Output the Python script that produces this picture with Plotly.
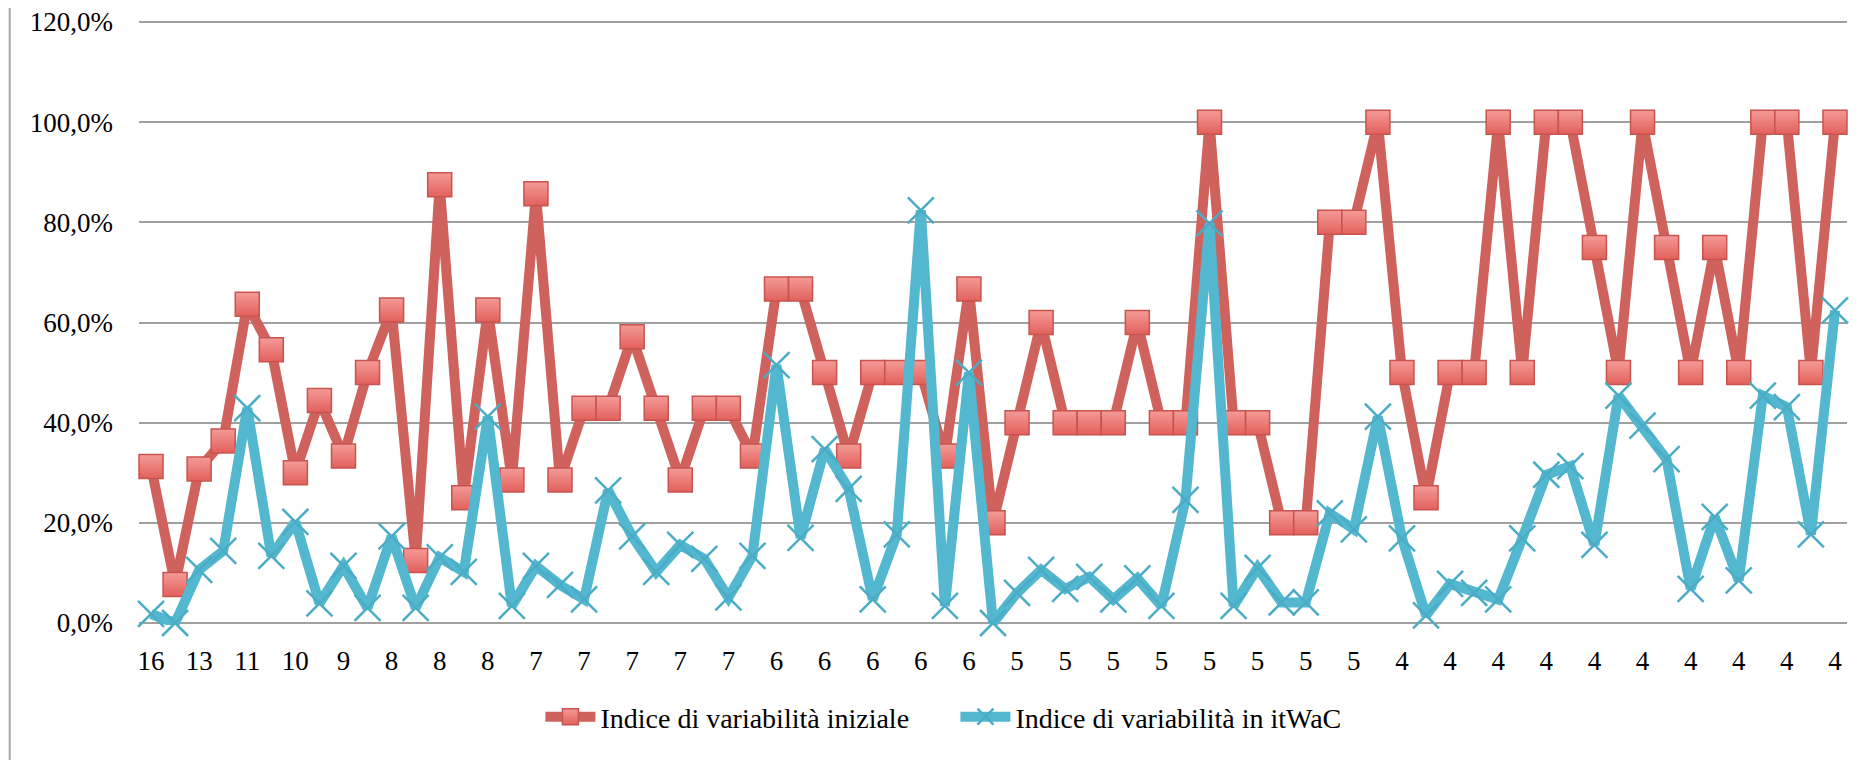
import plotly.graph_objects as go

# numero di varianti per voce (etichette asse x)
categories = [
    "16", "13", "13", "11", "11", "11", "10", "9", "9", "8",
    "8", "8", "8", "8", "8", "7", "7", "7", "7", "7",
    "7", "7", "7", "7", "7", "6", "6", "6", "6", "6",
    "6", "6", "6", "6", "6", "5", "5", "5", "5", "5",
    "5", "5", "5", "5", "5", "5", "5", "5", "5", "5",
    "5", "4", "4", "4", "4", "4", "4", "4", "4", "4",
    "4", "4", "4", "4", "4", "4", "4", "4", "4", "4",
    "4",
]

indice_iniziale = [
    0.3125, 0.0769, 0.3077, 0.3636, 0.6364, 0.5455, 0.3000, 0.4444, 0.3333, 0.5000,
    0.6250, 0.1250, 0.8750, 0.2500, 0.6250, 0.2857, 0.8571, 0.2857, 0.4286, 0.4286,
    0.5714, 0.4286, 0.2857, 0.4286, 0.4286, 0.3333, 0.6667, 0.6667, 0.5000, 0.3333,
    0.5000, 0.5000, 0.5000, 0.3333, 0.6667, 0.2000, 0.4000, 0.6000, 0.4000, 0.4000,
    0.4000, 0.6000, 0.4000, 0.4000, 1.0000, 0.4000, 0.4000, 0.2000, 0.2000, 0.8000,
    0.8000, 1.0000, 0.5000, 0.2500, 0.5000, 0.5000, 1.0000, 0.5000, 1.0000, 1.0000,
    0.7500, 0.5000, 1.0000, 0.7500, 0.5000, 0.7500, 0.5000, 1.0000, 1.0000, 0.5000,
    1.0000,
]

indice_itwac = [
    0.018, 0.000, 0.106, 0.144, 0.429, 0.134, 0.202, 0.039, 0.114, 0.030,
    0.173, 0.030, 0.131, 0.102, 0.412, 0.034, 0.114, 0.076, 0.047, 0.265,
    0.173, 0.102, 0.156, 0.128, 0.051, 0.134, 0.515, 0.170, 0.347, 0.268,
    0.047, 0.177, 0.824, 0.034, 0.500, 0.000, 0.060, 0.106, 0.068, 0.092,
    0.047, 0.089, 0.034, 0.246, 0.798, 0.034, 0.110, 0.041, 0.041, 0.219,
    0.187, 0.412, 0.169, 0.015, 0.078, 0.060, 0.047, 0.169, 0.296, 0.313,
    0.156, 0.454, 0.394, 0.327, 0.068, 0.212, 0.085, 0.454, 0.431, 0.177,
    0.624,
]

x = list(range(len(categories)))

fig = go.Figure()

# serie 1: indice iniziale (quadrati rossi)
fig.add_trace(
    go.Scatter(
        x=x, y=indice_iniziale, name="Indice di variabilità iniziale",
        mode="lines+markers",
        line=dict(color="#CF625D", width=10),
        marker=dict(
            symbol="square", size=24, color="#F49B98",
            gradient=dict(type="vertical", color="#E2605B"),
            line=dict(color="#C9534E", width=1.5),
        ),
        cliponaxis=False,
    )
)

# serie 2: indice in itWaC (stelle azzurre)
fig.add_trace(
    go.Scatter(
        x=x, y=indice_itwac, name="Indice di variabilità in itWaC",
        mode="lines+markers",
        line=dict(color="#52B7CF", width=10),
        marker=dict(
            symbol="x-thin-open", size=26, color="#4BACC6",
            line=dict(color="#4BACC6", width=2.5),
        ),
        cliponaxis=False,
    )
)

# cornice a sinistra
fig.add_shape(
    type="line", xref="paper", yref="paper",
    x0=-0.0757, x1=-0.0757, y0=-0.26, y1=1.04,
    line=dict(color="#A6A6A6", width=2),
)

font = "Liberation Serif, DejaVu Serif, serif"

# la pagina ha un margine di 8px: margini compensati
fig.update_layout(
    width=1876,
    height=760,
    separators=",.",
    paper_bgcolor="white",
    plot_bgcolor="white",
    margin=dict(l=131, r=37, t=12, b=143, autoexpand=False),
    font=dict(family=font, size=26, color="black"),
    showlegend=True,
    legend=dict(
        orientation="h",
        x=0.478, xanchor="center",
        y=-0.152, yanchor="middle",
        font=dict(family=font, size=28),
        itemwidth=50,
        entrywidth=350,
    ),
)

fig.update_xaxes(
    range=[-0.5, len(categories) - 0.5],
    tickmode="array",
    tickvals=x[::2],
    ticktext=categories[::2],
    showgrid=False,
    showline=False,
    zeroline=False,
    ticks="",
    automargin=False,
    ticklabelstandoff=17,
    tickfont=dict(size=27),
)

fig.update_yaxes(
    range=[-0.004, 1.204],
    tickvals=[0, 0.2, 0.4, 0.6, 0.8, 1.0, 1.2],
    tickformat=".1%",
    showgrid=True,
    gridcolor="#A0A0A0",
    gridwidth=2,
    zeroline=False,
    showline=False,
    ticks="",
    automargin=False,
    ticklabeloverflow="allow",
    ticklabelstandoff=25,
    tickfont=dict(size=27),
)

fig.write_html("out.html")
